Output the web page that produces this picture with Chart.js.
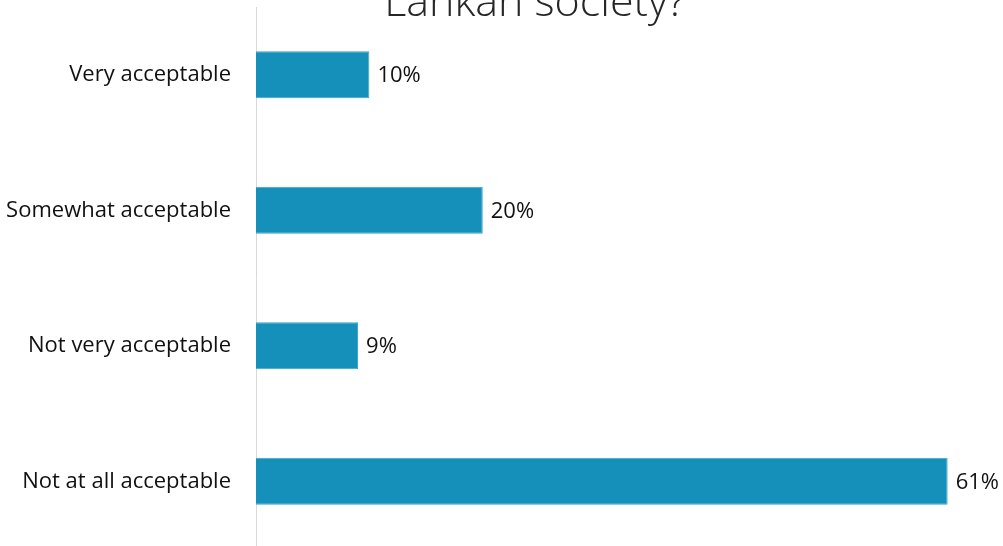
<!DOCTYPE html>
<html>
<head>
<meta charset="utf-8">
<script src="https://cdn.jsdelivr.net/npm/chart.js@4"></script>
<style>
  html, body { margin: 0; padding: 0; background: #fff; overflow: hidden; }
  #wrap { position: relative; width: 1003px; height: 549px; }
</style>
</head>
<body>
<div id="wrap"><canvas id="acceptChart"></canvas></div>
<script>
const categories = ['Very acceptable', 'Somewhat acceptable', 'Not very acceptable', 'Not at all acceptable'];
const shares = [10, 20, 9, 61];
const titleLine = 'Lankan society?';

const fontFamily = '"Open Sans", Lato, "Liberation Sans", sans-serif';

// value labels at the end of each bar
const barLabels = {
    id: 'barLabels',
    afterDatasetsDraw(chart) {
        const ctx = chart.ctx;
        const meta = chart.getDatasetMeta(0);
        ctx.save();
        ctx.font = '22px ' + fontFamily;
        ctx.fillStyle = '#111';
        ctx.textAlign = 'left';
        ctx.textBaseline = 'middle';
        meta.data.forEach((bar, i) => {
            ctx.fillText(shares[i] + '%', bar.x + 8, bar.y + 1);
        });
        ctx.restore();
    }
};

// last line of the heading, partly above the canvas edge
const headingLine = {
    id: 'headingLine',
    afterDraw(chart) {
        const ctx = chart.ctx;
        ctx.save();
        ctx.font = '300 43px ' + fontFamily;
        ctx.fillStyle = '#262626';
        ctx.textAlign = 'center';
        ctx.textBaseline = 'alphabetic';
        ctx.fillText(titleLine, 535, 16);
        ctx.restore();
    }
};

const ctx = document.getElementById('acceptChart').getContext('2d');
new Chart(ctx, {
    type: 'bar',
    data: {
        labels: categories,
        datasets: [{
            data: shares,
            backgroundColor: '#1590bb',
            borderColor: '#3aa3c8',
            borderWidth: 1,
            categoryPercentage: 1,
            barPercentage: 0.347
        }]
    },
    plugins: [barLabels, headingLine],
    options: {
        indexAxis: 'y',
        responsive: true,
        maintainAspectRatio: false,
        animation: false,
        layout: { padding: { top: 7, right: 10, bottom: 0, left: 0 } },
        plugins: {
            legend: { display: false },
            tooltip: { enabled: false }
        },
        scales: {
            x: {
                display: false,
                min: 0,
                max: 65
            },
            y: {
                afterFit: scale => {
                    scale.width = 256;
                    scale.paddingTop = 0;
                    scale.paddingBottom = 0;
                },
                grid: { display: false, drawTicks: false },
                border: { color: '#d9d9d9', width: 1 },
                ticks: {
                    color: '#111',
                    padding: 25,
                    font: { family: fontFamily, size: 22 }
                }
            }
        }
    }
});
</script>
</body>
</html>
